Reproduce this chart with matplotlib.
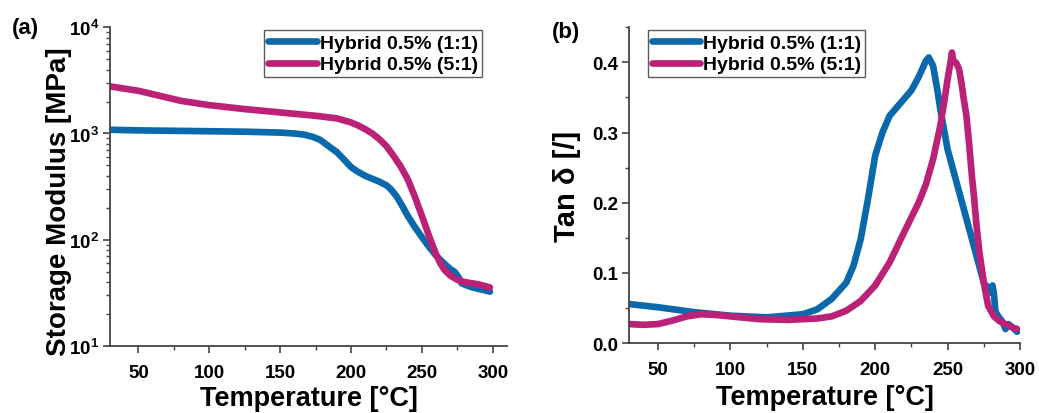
import matplotlib
matplotlib.use("Agg")
import matplotlib.pyplot as plt
from matplotlib.ticker import MultipleLocator, LogLocator, NullFormatter

plt.rcParams['font.family'] = ['Liberation Sans', 'DejaVu Sans']
plt.rcParams['font.weight'] = 'bold'
plt.rcParams['mathtext.fontset'] = 'custom'
plt.rcParams['mathtext.rm'] = 'Liberation Sans:bold'
plt.rcParams['mathtext.bf'] = 'Liberation Sans:bold'
plt.rcParams['mathtext.default'] = 'bf'

labels = ["Hybrid 0.5% (1:1)", "Hybrid 0.5% (5:1)"]
colors = ['#0a69ab', '#bb2277']

# Panel (a): storage modulus [MPa]
Ta_11 = [30, 50, 75, 100, 125, 150, 160, 167, 173, 178, 182, 186, 190, 195, 200, 205, 210, 215, 220, 225,
         228, 232, 236, 240, 245, 250, 255, 260, 265, 270, 273, 276, 278, 282, 286, 290, 294, 298]
Ea_11 = [1084, 1070, 1060, 1050, 1040, 1020, 1000, 975, 930, 875, 800, 730, 668, 570, 483, 435, 400, 375, 352, 325,
         300, 258, 210, 168, 132, 106, 86, 71, 61, 53, 50, 44, 39, 37, 35.5, 34.5, 33.5, 32.5]
Ta_51 = [30, 50, 65, 80, 100, 125, 150, 175, 190, 200, 205, 210, 215, 220, 225, 230, 235, 240, 245, 250, 255,
         260, 263, 266, 270, 275, 280, 285, 290, 295, 298]
Ea_51 = [2775, 2523, 2263, 2029, 1849, 1697, 1578, 1468, 1387, 1271, 1190, 1099, 1000, 885, 760, 617, 490, 372, 255, 168, 109,
         73, 60, 52, 46, 42, 40, 39, 38, 36.5, 35.6]

# Panel (b): tan delta
Tb_11 = [30, 50, 75, 100, 125, 150, 160, 170, 180, 185, 190, 195, 200, 205, 210, 215, 220, 225, 230,
         235, 237, 240, 243, 245, 250, 255, 260, 265, 270, 275, 278, 280, 281, 282, 283, 285, 288, 290,
         292, 295, 298]
tb_11 = [0.0556, 0.051, 0.044, 0.039, 0.0366, 0.041, 0.048, 0.063, 0.086, 0.11, 0.148, 0.205, 0.267, 0.30,
         0.324, 0.336, 0.348, 0.36, 0.379, 0.402, 0.407, 0.395, 0.36, 0.333, 0.276, 0.238, 0.2, 0.162,
         0.124, 0.086, 0.078, 0.072, 0.082, 0.07, 0.045, 0.038, 0.03, 0.02, 0.027, 0.022, 0.016]
Tb_51 = [30, 40, 50, 60, 70, 80, 90, 100, 120, 140, 160, 170, 180, 190, 200, 210, 220, 230, 235, 240,
         245, 248, 250, 252, 253, 254, 256, 258, 260, 261, 263, 265, 267, 268, 270, 272, 275, 278, 282,
         286, 290, 295, 298]
tb_51 = [0.027, 0.026, 0.027, 0.032, 0.038, 0.041, 0.040, 0.038, 0.034, 0.033, 0.035, 0.038, 0.046,
         0.060, 0.082, 0.115, 0.158, 0.2, 0.226, 0.262, 0.31, 0.348, 0.376, 0.40, 0.414, 0.402, 0.399,
         0.39, 0.365, 0.35, 0.324, 0.281, 0.233, 0.214, 0.167, 0.129, 0.086, 0.053, 0.038, 0.031, 0.027,
         0.022, 0.020]

fig = plt.figure(figsize=(10.39, 4.14), dpi=100)
axa = fig.add_axes([0.1059, 0.1618, 0.382, 0.770])
axb = fig.add_axes([0.6054, 0.169, 0.3763, 0.7627])

lw = 4.8
kw = dict(lw=lw, solid_capstyle='round', solid_joinstyle='round')
axa.plot(Ta_11, Ea_11, color=colors[0], label=labels[0], **kw)
axa.plot(Ta_51, Ea_51, color=colors[1], label=labels[1], **kw)
axa.set_yscale('log')
axa.set_xlim(30, 310)
axa.set_ylim(10, 1e4)
axa.yaxis.set_major_locator(LogLocator(base=10, numticks=10))
axa.yaxis.set_minor_locator(LogLocator(base=10, subs=range(2, 10), numticks=20))
axa.yaxis.set_minor_formatter(NullFormatter())
axa.xaxis.set_major_locator(MultipleLocator(50))
axa.xaxis.set_minor_locator(MultipleLocator(25))
axa.set_ylabel('Storage Modulus [MPa]', fontsize=20, fontweight='bold')
axa.yaxis.set_label_coords(-0.097, 0.455)
axa.set_xlabel('Temperature [°C]', fontsize=19.5, fontweight='bold', labelpad=3)

axb.plot(Tb_11, tb_11, color=colors[0], label=labels[0], **kw)
axb.plot(Tb_51, tb_51, color=colors[1], label=labels[1], **kw)
axb.set_xlim(30, 300)
axb.set_ylim(0, 0.45)
axb.xaxis.set_major_locator(MultipleLocator(50))
axb.xaxis.set_minor_locator(MultipleLocator(25))
axb.yaxis.set_major_locator(MultipleLocator(0.1))
axb.yaxis.set_minor_locator(MultipleLocator(0.05))
axb.set_ylabel('Tan δ [/]', fontsize=21, fontweight='bold', labelpad=8)
axb.set_xlabel('Temperature [°C]', fontsize=19.5, fontweight='bold', labelpad=4)

for ax in (axa, axb):
    for s in ('top', 'right'):
        ax.spines[s].set_visible(False)
    for s in ('left', 'bottom'):
        ax.spines[s].set_color('#444444')
        ax.spines[s].set_linewidth(1.3)
    ax.tick_params(which='major', direction='out', length=5, width=1.2, color='#444444',
                   labelsize=13.5, pad=3)
    ax.tick_params(which='minor', direction='out', length=3, width=1.0, color='#444444')
    for lab in ax.get_xticklabels() + ax.get_yticklabels():
        lab.set_fontweight('bold')

axa.tick_params(axis='x', pad=8)
axb.tick_params(axis='x', pad=8)

leg_kw = dict(frameon=True, fancybox=False, handlelength=2.5, handletextpad=0.15,
              borderpad=0.2, labelspacing=0.2, borderaxespad=0.0, prop={'weight': 'bold', 'size': 14})
la = axa.legend(loc='upper right', bbox_to_anchor=(0.937, 0.99), **leg_kw)
lb = axb.legend(loc='upper left', bbox_to_anchor=(0.048, 0.99), **leg_kw)
for lg in (la, lb):
    lg.get_frame().set_edgecolor('#333333')
    lg.get_frame().set_linewidth(1.0)

fig.text(0.011, 0.932, '(a)', fontsize=16, fontweight='bold', ha='left', va='center')
fig.text(0.531, 0.921, '(b)', fontsize=16, fontweight='bold', ha='left', va='center')

fig.savefig('out.png', dpi=100)
